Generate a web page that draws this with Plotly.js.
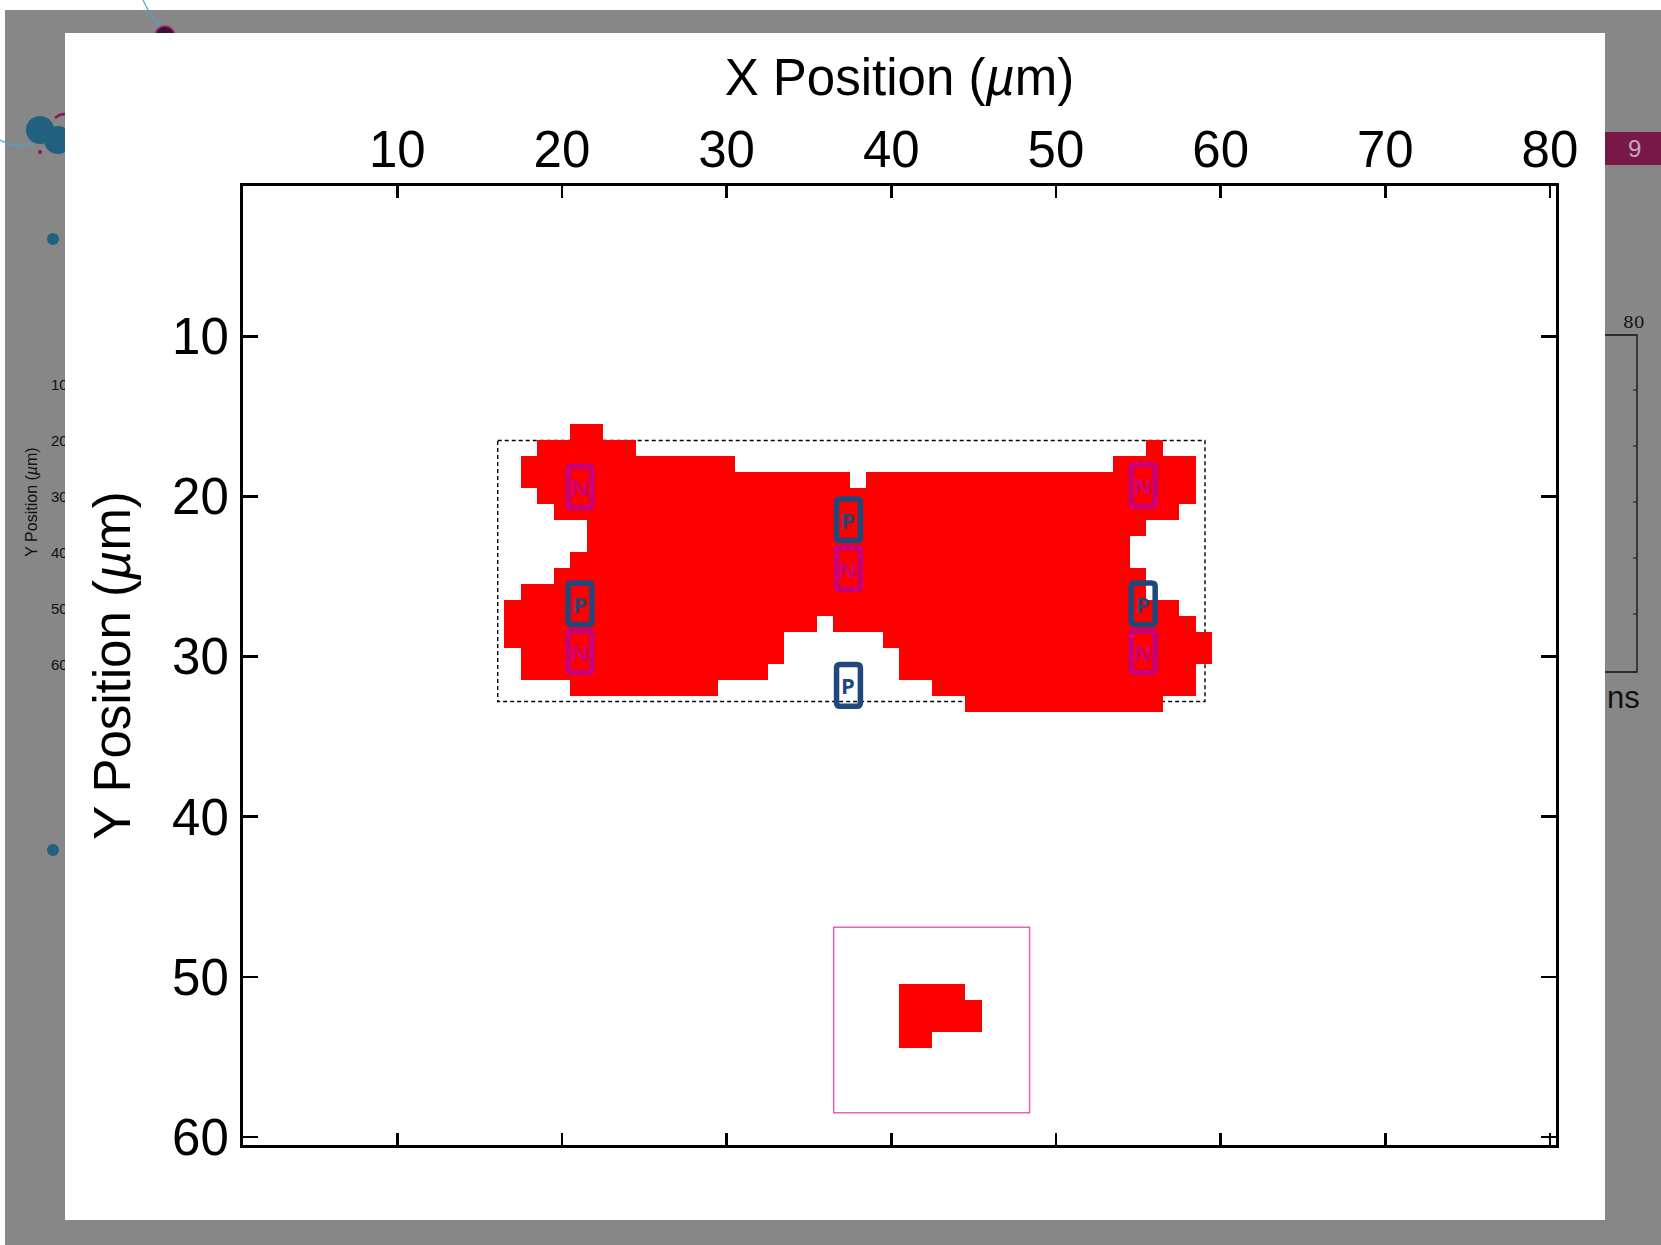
<!DOCTYPE html>
<html>
<head>
<meta charset="utf-8">
<script src="https://cdn.plot.ly/plotly-3.0.1.min.js"></script>
<style>
  html, body { margin: 0; padding: 0; background: #ffffff; width: 1661px; height: 1245px; overflow: hidden; }
  #slide { position: absolute; left: 5px; top: 10px; width: 1656px; height: 1235px; background: #878787; }
  #deco { position: absolute; left: 0; top: 0; width: 1661px; height: 1245px; }
  #chart { position: absolute; left: 65px; top: 33px; width: 1540px; height: 1187px; }
  .txt { position: absolute; font-family: "Liberation Sans", Arial, sans-serif; color: #111; white-space: nowrap; }
</style>
</head>
<body>
<div id="slide"></div>
<svg id="deco" width="1661" height="1245">
  <path d="M143,0 Q150,15 160,27" stroke="#4aa3d6" stroke-width="1.2" fill="none"/>
  <circle cx="165" cy="36" r="10" fill="#3a1233" stroke="#b0256e" stroke-width="1.5"/>
  <path d="M0,140 Q20,150 30,143" stroke="#4aa3d6" stroke-width="1.2" fill="none"/>
  <path d="M55,118 Q62,112 70,115" stroke="#8a1550" stroke-width="2.5" fill="none"/>
  <circle cx="40" cy="130" r="14" fill="#22607f"/>
  <circle cx="58" cy="140" r="14" fill="#22607f"/>
  <circle cx="40" cy="152" r="2" fill="#8a1550"/>
  <circle cx="53" cy="239" r="6" fill="#22607f"/>
  <circle cx="53" cy="850" r="6" fill="#22607f"/>
  <rect x="1605" y="132" width="56" height="33" fill="#771848"/>
  <path d="M1605,335 L1637,335 L1637,672 L1605,672" stroke="#111" stroke-width="1.3" fill="none"/>
  <path d="M1637,390 L1633,390 M1637,446 L1633,446 M1637,502 L1633,502 M1637,558 L1633,558 M1637,614 L1633,614" stroke="#111" stroke-width="1"/>
</svg>
<div class="txt" style="left:1628px; top:135px; font-size:24px; color:#c9a3b8;">9</div>
<div class="txt" style="left:1623px; top:312px; font-size:17px; font-family:'DejaVu Serif',serif;">80</div>
<div class="txt" style="left:1607px; top:680px; font-size:31px;">ns</div>
<div class="txt" style="left:51px; top:376px; font-size:15px;">10</div>
<div class="txt" style="left:51px; top:432px; font-size:15px;">20</div>
<div class="txt" style="left:51px; top:488px; font-size:15px;">30</div>
<div class="txt" style="left:51px; top:544px; font-size:15px;">40</div>
<div class="txt" style="left:51px; top:600px; font-size:15px;">50</div>
<div class="txt" style="left:51px; top:656px; font-size:15px;">60</div>
<div class="txt" style="left:-28px; top:493px; font-size:16px; transform: rotate(-90deg); transform-origin: 60px 9px; width:120px; text-align:center;">Y Position (<i>µ</i>m)</div>
<div id="chart"></div>
<script>
// ---- data ----
const gridCols = 80;
const gridRows = 60;
// red cells: one entry per image row, with [firstColumn, lastColumn] runs
const maskRows = [16, 17, 18, 19, 20, 21, 22, 23, 24, 25, 26, 27, 28, 29, 30, 31, 32, 33, 51, 52, 53, 54];
const maskSpans = [
  [[21, 22]],
  [[19, 24], [56, 56]],
  [[18, 30], [54, 58]],
  [[18, 37], [39, 58]],
  [[19, 58]],
  [[20, 57]],
  [[22, 55]],
  [[22, 54]],
  [[21, 54]],
  [[20, 55]],
  [[18, 55]],
  [[17, 57]],
  [[17, 35], [37, 58]],
  [[17, 33], [40, 59]],
  [[18, 33], [41, 59]],
  [[18, 32], [41, 58]],
  [[21, 29], [43, 58]],
  [[45, 56]],
  [[41, 44]],
  [[41, 45]],
  [[41, 45]],
  [[41, 42]]
];
// contact markers
const markLabels = ['N', 'P', 'N', 'P', 'N', 'P', 'N', 'P', 'N'];
const markX = [21.1, 21.1, 21.1, 37.4, 37.4, 37.4, 55.3, 55.3, 55.3];
const markY = [19.4, 26.7, 29.7, 21.45, 24.5, 31.8, 19.3, 26.7, 29.7];
// outlines
const dashedBox = [16.1, 59.05, 16.5, 32.8];
const pinkBox = [36.5, 48.4, 46.9, 58.5];
const xTicks = [10, 20, 30, 40, 50, 60, 70, 80];
const yTicks = [10, 20, 30, 40, 50, 60];
const xRange = [0.632, 80.366];
const yRange = [60.51, 0.60];

// ---- build the image matrix ----
const xs = [], ys = [];
for (let c = 1; c <= gridCols; c++) xs.push(c);
for (let r = 1; r <= gridRows; r++) ys.push(r);
const z = ys.map(() => xs.map(() => null));
maskRows.forEach((r, i) => {
  maskSpans[i].forEach(([a, b]) => {
    for (let c = a; c <= b; c++) z[r - 1][c - 1] = 1;
  });
});

const colN = '#C8007A';
const colP = '#1F497D';
function roundRect(cx, cy, w, h, r) {
  const x0 = cx - w / 2, x1 = cx + w / 2, y0 = cy - h / 2, y1 = cy + h / 2;
  return `M${x0 + r},${y0} L${x1 - r},${y0} Q${x1},${y0} ${x1},${y0 + r} L${x1},${y1 - r} Q${x1},${y1} ${x1 - r},${y1} L${x0 + r},${y1} Q${x0},${y1} ${x0},${y1 - r} L${x0},${y0 + r} Q${x0},${y0} ${x0 + r},${y0} Z`;
}

const shapes = [
  { type: 'rect', xref: 'x', yref: 'y', x0: dashedBox[0], x1: dashedBox[1], y0: dashedBox[2], y1: dashedBox[3],
    line: { color: '#000', width: 1.4, dash: '4px,3px' }, layer: 'below' },
  { type: 'rect', xref: 'x', yref: 'y', x0: pinkBox[0], x1: pinkBox[1], y0: pinkBox[2], y1: pinkBox[3],
    line: { color: '#E463B5', width: 1.5 }, layer: 'above' }
];
const annotations = [];
markLabels.forEach((lab, i) => {
  const col = lab === 'N' ? colN : colP;
  shapes.push({ type: 'path', xref: 'x', yref: 'y', path: roundRect(markX[i], markY[i], 1.45, 2.6, 0.22),
    line: { color: col, width: 5.5 }, layer: 'above' });
  annotations.push({ xref: 'x', yref: 'y', x: markX[i], y: markY[i], text: '<b>' + lab + '</b>', showarrow: false,
    font: { family: 'Open Sans, Roboto, sans-serif', size: 22, color: col } });
});

const trace = {
  type: 'heatmap', x: xs, y: ys, z: z, zmin: 0, zmax: 1,
  colorscale: [[0, '#FF0000'], [1, '#FF0000']], showscale: false, hoverinfo: 'skip', zsmooth: false
};

const axisFont = { family: 'Liberation Sans, Arial, sans-serif', size: 51, color: '#000' };
const layout = {
  width: 1540, height: 1187,
  margin: { l: 178, r: 49, t: 153, b: 75 },
  paper_bgcolor: '#ffffff', plot_bgcolor: '#ffffff',
  showlegend: false,
  xaxis: {
    range: xRange, side: 'top', tickvals: xTicks, ticktext: xTicks.map(String),
    ticks: 'inside', ticklen: 12, tickwidth: 2.5, tickcolor: '#000',
    showline: true, linewidth: 3, linecolor: '#000', mirror: 'ticks',
    showgrid: false, zeroline: false, tickfont: axisFont, ticklabelstandoff: -4,
    title: { text: 'X Position (<i>µ</i>m)', font: axisFont, standoff: 9 }, automargin: false
  },
  yaxis: {
    range: yRange, tickvals: yTicks, ticktext: yTicks.map(String),
    ticks: 'inside', ticklen: 15, tickwidth: 2.5, tickcolor: '#000',
    showline: true, linewidth: 3, linecolor: '#000', mirror: 'ticks',
    showgrid: false, zeroline: false, tickfont: axisFont, ticklabelstandoff: 1,
    title: { text: 'Y Position (<i>µ</i>m)', font: axisFont, standoff: 26 }, automargin: false
  },
  shapes: shapes,
  annotations: annotations
};

Plotly.newPlot('chart', [trace], layout, { staticPlot: true, displayModeBar: false });
</script>
</body>
</html>
